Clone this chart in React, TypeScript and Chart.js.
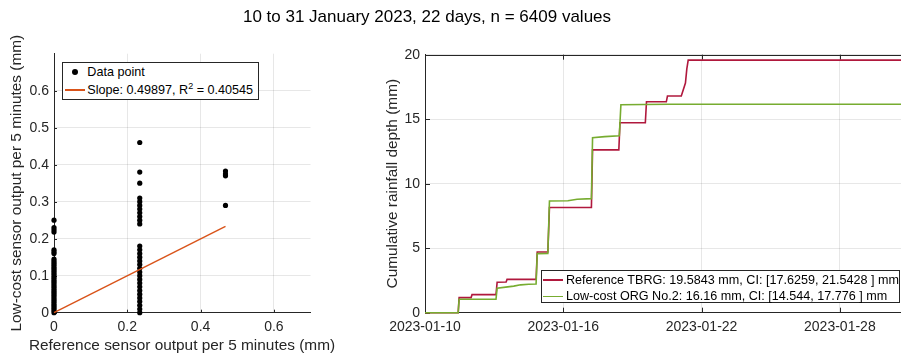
import React, { useEffect, useRef } from 'react';
import { Chart, registerables } from 'chart.js';

Chart.register(...registerables);

// ---------------- data: scatter (left) ----------------
const scatterColumnsX = [0, 0.234, 0.468];
const column0Y = [
  0, 0.005, 0.01, 0.015, 0.02, 0.025, 0.03, 0.035, 0.04, 0.045, 0.05, 0.055, 0.06, 0.065,
  0.07, 0.075, 0.08, 0.085, 0.09, 0.095, 0.1, 0.105, 0.11, 0.115, 0.12, 0.125, 0.13, 0.135,
  0.14, 0.145, 0.16, 0.165, 0.17, 0.218, 0.224, 0.23, 0.25,
];
const column1Y = [
  0, 0.01, 0.02, 0.03, 0.04, 0.05, 0.06, 0.07, 0.08, 0.09, 0.1, 0.11, 0.12, 0.13, 0.14,
  0.15, 0.16, 0.17, 0.18, 0.24, 0.25, 0.26, 0.27, 0.28, 0.29, 0.3, 0.31, 0.35, 0.38, 0.46,
];
const column2Y = [0.29, 0.37, 0.375, 0.383];
const fitLineX = [0, 0.468];
const fitLineY = [0, 0.2335];
const scatterXTicks = [0, 0.2, 0.4, 0.6];
const scatterYTicks = [0, 0.1, 0.2, 0.3, 0.4, 0.5, 0.6];

// ---------------- data: cumulative (right), x = days since 2023-01-10 ----------------
const referenceDays = [
  0, 1.44, 1.48, 2.0, 2.04, 3.08, 3.13, 3.52, 3.56, 4.82, 4.87, 5.33, 5.4, 7.22, 7.27, 8.41,
  8.46, 9.56, 9.61, 10.47, 10.52, 11.12, 11.3, 11.36, 11.42, 21,
];
const referenceCum = [
  0, 0, 1.17, 1.17, 1.4, 1.4, 2.36, 2.38, 2.58, 2.58, 4.7, 4.7, 8.15, 8.15, 12.62, 12.62,
  14.73, 14.73, 16.35, 16.35, 16.8, 16.8, 17.8, 18.9, 19.58, 19.58,
];
const orgDays = [
  0, 1.44, 1.48, 3.08, 3.13, 3.5, 3.85, 4.15, 4.5, 4.82, 4.87, 5.33, 5.4, 6.2, 6.6, 7.22,
  7.27, 7.8, 8.43, 8.5, 9.5, 10.6, 21,
];
const orgCum = [
  0, 0, 1.04, 1.04, 1.9, 1.98, 2.06, 2.16, 2.21, 2.23, 4.58, 4.6, 8.66, 8.68, 8.8, 8.84,
  13.57, 13.65, 13.72, 16.12, 16.14, 16.16, 16.16,
];
const dateTickDays = [0, 6, 12, 18];
const dateTickLabels = ['2023-01-10', '2023-01-16', '2023-01-22', '2023-01-28'];
const depthTicks = [0, 5, 10, 15, 20];

const referenceLabel = 'Reference TBRG: 19.5843 mm, CI: [17.6259, 21.5428 ] mm';
const orgLabel = 'Low-cost ORG No.2: 16.16 mm, CI: [14.544, 17.776 ] mm';
const figureTitle = '10 to 31 January 2023, 22 days, n = 6409 values';
const scatterXTitle = 'Reference sensor output per 5 minutes (mm)';

// ---------------- styles ----------------
const FONT = "'Liberation Sans', Arial, Helvetica, sans-serif";
const INK = '#262626';
const GRID = 'rgba(38,38,38,0.11)';
const RED = '#B0183D';
const GREEN = '#77AC30';
const ORANGE = '#D95319';
const CW = 912;
const CH = 360;

const matlabAxes = {
  id: 'matlabAxes',
  beforeDatasetsDraw(chart: any, _args: any, opts: any) {
    const { ctx, chartArea: a, scales } = chart;
    const xs = scales.x;
    const ys = scales.y;
    const tl = opts.tickLen || 3;
    ctx.save();
    ctx.strokeStyle = INK;
    ctx.lineWidth = 1;
    ctx.beginPath();
    xs.ticks.forEach((t: any) => {
      const px = Math.round(xs.getPixelForValue(t.value)) + 0.5;
      ctx.moveTo(px, a.bottom);
      ctx.lineTo(px, a.bottom - tl);
      if (opts.box) {
        ctx.moveTo(px, a.top);
        ctx.lineTo(px, a.top + tl);
      }
    });
    ys.ticks.forEach((t: any) => {
      const py = Math.round(ys.getPixelForValue(t.value)) + 0.5;
      ctx.moveTo(a.left, py);
      ctx.lineTo(a.left + tl, py);
    });
    if (opts.box) {
      const top = Math.round(a.top) + 0.5;
      ctx.moveTo(a.left, top);
      ctx.lineTo(a.right, top);
    }
    ctx.stroke();
    ctx.restore();
  },
};

const tickFont = { family: FONT, size: 14 };
const titleFont = { family: FONT, size: 15.4 };

function fmt(v: number) {
  return String(Math.round(v * 1000) / 1000);
}

export default function App() {
  const leftRef = useRef<HTMLCanvasElement>(null);
  const rightRef = useRef<HTMLCanvasElement>(null);

  useEffect(() => {
    const scatterPoints = [
      ...column0Y.map((y) => ({ x: scatterColumnsX[0], y })),
      ...column1Y.map((y) => ({ x: scatterColumnsX[1], y })),
      ...column2Y.map((y) => ({ x: scatterColumnsX[2], y })),
    ];
    const left = new Chart(leftRef.current as HTMLCanvasElement, {
      type: 'scatter',
      data: {
        datasets: [
          {
            type: 'line',
            data: fitLineX.map((x, i) => ({ x, y: fitLineY[i] })),
            borderColor: ORANGE,
            borderWidth: 1.4,
            pointRadius: 0,
            clip: false,
            order: 0,
          } as any,
          {
            type: 'scatter',
            data: scatterPoints,
            backgroundColor: '#000',
            borderColor: '#000',
            borderWidth: 0,
            pointRadius: 2.6,
            clip: false,
            order: 1,
          } as any,
        ],
      },
      options: {
        responsive: false,
        animation: false,
        devicePixelRatio: 1,
        events: [],
        layout: { padding: { left: 0, top: 53.7, right: CW - 310.5, bottom: 0 } },
        plugins: {
          legend: { display: false },
          tooltip: { enabled: false },
          matlabAxes: { box: false, tickLen: 3 },
        } as any,
        scales: {
          x: {
            type: 'linear',
            min: 0,
            max: 0.7,
            afterBuildTicks: (s: any) => {
              s.ticks = scatterXTicks.map((v) => ({ value: v }));
            },
            afterFit: (s: any) => {
              s.height = CH - 312.7;
            },
            grid: { color: GRID, drawTicks: false },
            border: { color: INK, width: 1 },
            ticks: { font: tickFont, color: INK, padding: 6.5, maxRotation: 0, callback: (v: any) => fmt(v) },
          },
          y: {
            type: 'linear',
            min: 0,
            max: 0.7,
            afterBuildTicks: (s: any) => {
              s.ticks = scatterYTicks.map((v) => ({ value: v }));
            },
            afterFit: (s: any) => {
              s.width = 54;
            },
            grid: { color: GRID, drawTicks: false },
            border: { color: INK, width: 1 },
            ticks: { font: tickFont, color: INK, padding: 5, callback: (v: any) => fmt(v) },
            title: {
              display: true,
              text: 'Low-cost sensor output per 5 minutes (mm)',
              font: titleFont,
              color: INK,
              padding: { top: 7.4, bottom: 0 },
            },
          },
        },
      },
      plugins: [matlabAxes],
    } as any);

    const right = new Chart(rightRef.current as HTMLCanvasElement, {
      type: 'line',
      data: {
        datasets: [
          {
            label: referenceLabel,
            data: referenceDays.map((x, i) => ({ x, y: referenceCum[i] })),
            borderColor: RED,
            borderWidth: 1.6,
            pointRadius: 0,
            clip: false,
            order: 1,
          },
          {
            label: orgLabel,
            data: orgDays.map((x, i) => ({ x, y: orgCum[i] })),
            borderColor: GREEN,
            borderWidth: 1.6,
            pointRadius: 0,
            clip: false,
            order: 0,
          },
        ],
      },
      options: {
        responsive: false,
        animation: false,
        devicePixelRatio: 1,
        events: [],
        layout: { padding: { left: 370, top: 54.7, right: CW - 909, bottom: 0 } },
        plugins: {
          legend: { display: false },
          tooltip: { enabled: false },
          matlabAxes: { box: true, tickLen: 5 },
        } as any,
        scales: {
          x: {
            type: 'linear',
            min: 0,
            max: 21,
            afterBuildTicks: (s: any) => {
              s.ticks = dateTickDays.map((v) => ({ value: v }));
            },
            afterFit: (s: any) => {
              s.height = CH - 312.7;
            },
            grid: { color: GRID, drawTicks: false },
            border: { color: INK, width: 1 },
            ticks: {
              font: tickFont,
              color: INK,
              padding: 6.5,
              maxRotation: 0,
              callback: (v: any) => dateTickLabels[dateTickDays.indexOf(v)],
            },
          },
          y: {
            type: 'linear',
            min: 0,
            max: 20,
            afterBuildTicks: (s: any) => {
              s.ticks = depthTicks.map((v) => ({ value: v }));
            },
            afterFit: (s: any) => {
              s.width = 55;
            },
            grid: { color: GRID, drawTicks: false },
            border: { color: INK, width: 1 },
            ticks: { font: tickFont, color: INK, padding: 5, callback: (v: any) => fmt(v) },
            title: {
              display: true,
              text: 'Cumulative rainfall depth (mm)',
              font: titleFont,
              color: INK,
              padding: { top: 14, bottom: 0 },
            },
          },
        },
      },
      plugins: [matlabAxes],
    } as any);

    return () => {
      left.destroy();
      right.destroy();
    };
  }, []);

  const canvasStyle: React.CSSProperties = {
    position: 'absolute',
    left: 0,
    top: 0,
    width: CW,
    height: CH,
  };
  const legendText: React.CSSProperties = {
    position: 'absolute',
    fontFamily: FONT,
    fontSize: 12.6,
    lineHeight: '15px',
    color: '#000',
    whiteSpace: 'nowrap',
  };

  return (
    <div
      style={{
        position: 'absolute',
        left: 0,
        top: 0,
        width: 901,
        height: 360,
        overflow: 'hidden',
        background: '#fff',
      }}
    >
      <canvas ref={leftRef} width={CW} height={CH} style={canvasStyle} />
      <canvas ref={rightRef} width={CW} height={CH} style={canvasStyle} />
      <div
        style={{
          position: 'absolute',
          left: 0,
          top: 7,
          width: 854,
          textAlign: 'center',
          fontFamily: FONT,
          fontSize: 17,
          lineHeight: '20px',
          color: '#000',
          whiteSpace: 'nowrap',
        }}
      >
        {figureTitle}
      </div>
      <div
        style={{
          position: 'absolute',
          left: 0,
          top: 335,
          width: 364,
          textAlign: 'center',
          fontFamily: FONT,
          fontSize: 15.4,
          lineHeight: '19px',
          color: INK,
          whiteSpace: 'nowrap',
        }}
      >
        {scatterXTitle}
      </div>
      {/* left legend */}
      <div
        style={{
          position: 'absolute',
          left: 62,
          top: 61.5,
          width: 195,
          height: 36.5,
          border: `1px solid ${INK}`,
          background: '#fff',
        }}
      >
        <div
          style={{
            position: 'absolute',
            left: 9.3,
            top: 6.8,
            width: 6,
            height: 6,
            borderRadius: 3,
            background: '#000',
          }}
        />
        <span style={{ ...legendText, left: 24.3, top: 2.3 }}>Data point</span>
        <div
          style={{
            position: 'absolute',
            left: 2,
            top: 26.8,
            width: 20.3,
            height: 1.4,
            background: ORANGE,
          }}
        />
        <span style={{ ...legendText, left: 24.3, top: 20 }}>
          Slope: 0.49897, R
          <span style={{ fontSize: 9, position: 'relative', top: -5 }}>2</span> = 0.40545
        </span>
      </div>
      {/* right legend */}
      <div
        style={{
          position: 'absolute',
          left: 540.7,
          top: 270,
          width: 357.3,
          height: 31.3,
          border: `1px solid ${INK}`,
          background: '#fff',
        }}
      >
        <div
          style={{ position: 'absolute', left: 1, top: 8.2, width: 20.6, height: 1.6, background: RED }}
        />
        <span style={{ ...legendText, left: 24.3, top: 1.5 }}>{referenceLabel}</span>
        <div
          style={{ position: 'absolute', left: 1, top: 24.9, width: 20.6, height: 1.6, background: GREEN }}
        />
        <span style={{ ...legendText, left: 24.3, top: 18.2 }}>{orgLabel}</span>
      </div>
    </div>
  );
}
